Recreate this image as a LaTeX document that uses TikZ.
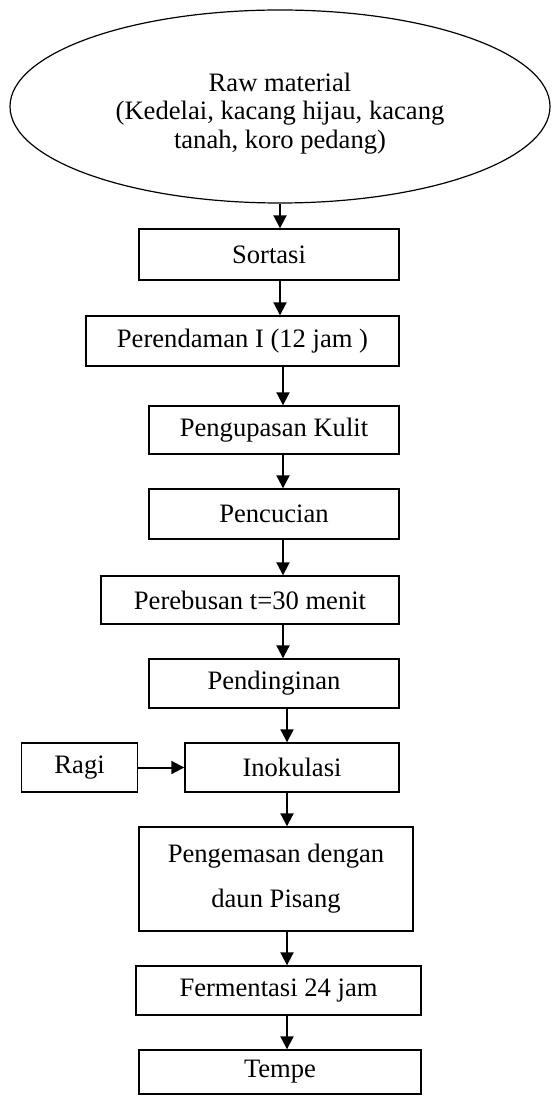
\documentclass[tikz,border=0pt]{standalone}
\usepackage{fontspec}
\setmainfont{Liberation Serif}
\usetikzlibrary{shapes.geometric, arrows.meta, positioning}

\begin{document}
\begin{tikzpicture}[
    x=0.5pt, y=-0.5pt,
    box/.style={rectangle, draw=black, line width=0.7pt, inner sep=0pt, align=center, font=\fontsize{13.3}{14.3}\selectfont},
    rawbox/.style={ellipse, draw=black, line width=0.6pt, inner sep=0pt, minimum width=270pt, minimum height=96.5pt},
    arrow/.style={line width=1pt, -{Triangle[width=6.5pt,length=6.5pt]}}
]
    \useasboundingbox (0,0) rectangle (551,1096);

    % Nodes
    \node[rawbox, label={[align=center, yshift=-3.5pt, font=\fontsize{13.3}{14.3}\selectfont]center:Raw material\\(Kedelai, kacang hijau, kacang\\tanah, koro pedang)}] (raw) at (280,106.5) {};
    \node[box, minimum width=130pt, minimum height=25.5pt] (sortasi) at (269,254.5) {Sortasi};
    \node[box, minimum width=156.5pt, minimum height=25pt] (rendam) at (242.5,341) {Perendaman I (12 jam )};
    \node[box, minimum width=125pt, minimum height=24pt] (kupas) at (274,430) {Pengupasan Kulit};
    \node[box, minimum width=125pt, minimum height=25pt] (cuci) at (274,514) {Pencucian};
    \node[box, minimum width=149pt, minimum height=24pt] (rebus) at (250,600) {Perebusan t=30 menit};
    \node[box, minimum width=125pt, minimum height=24.5pt] (dingin) at (274,683.5) {Pendinginan};
    \node[box, minimum width=107pt, minimum height=24.5pt] (inokulasi) at (292,767.5) {Inokulasi};
    \node[box, minimum width=58pt, minimum height=24.5pt, left=23pt of inokulasi] (ragi) {Ragi};
    \node[box, minimum width=137pt, minimum height=52pt, font=\fontsize{13.3}{22.5}\selectfont] (kemas) at (276,879) {Pengemasan dengan\\daun Pisang};
    \node[box, minimum width=142.5pt, minimum height=24.5pt] (fermentasi) at (278.5,990.5) {Fermentasi 24 jam};
    \node[box, minimum width=141pt, minimum height=22pt] (tempe) at (280,1072) {Tempe};

    \coordinate (colA) at (280,0);
    \coordinate (colB) at (283,0);
    \coordinate (colC) at (287,0);

    % Connections
    \draw[arrow] (raw.south -| colA) -- (sortasi.north -| colA);
    \draw[arrow] (sortasi.south -| colA) -- (rendam.north -| colA);
    \draw[arrow] (rendam.south -| colB) -- (kupas.north -| colB);
    \draw[arrow] (kupas.south -| colB) -- (cuci.north -| colB);
    \draw[arrow] (cuci.south -| colB) -- (rebus.north -| colB);
    \draw[arrow] (rebus.south -| colB) -- (dingin.north -| colB);
    \draw[arrow] (dingin.south -| colC) -- (inokulasi.north -| colC);
    \draw[arrow] (ragi) -- (inokulasi);
    \draw[arrow] (inokulasi.south -| colC) -- (kemas.north -| colC);
    \draw[arrow] (kemas.south -| colC) -- (fermentasi.north -| colC);
    \draw[arrow] (fermentasi.south -| colC) -- (tempe.north -| colC);
\end{tikzpicture}
\end{document}
